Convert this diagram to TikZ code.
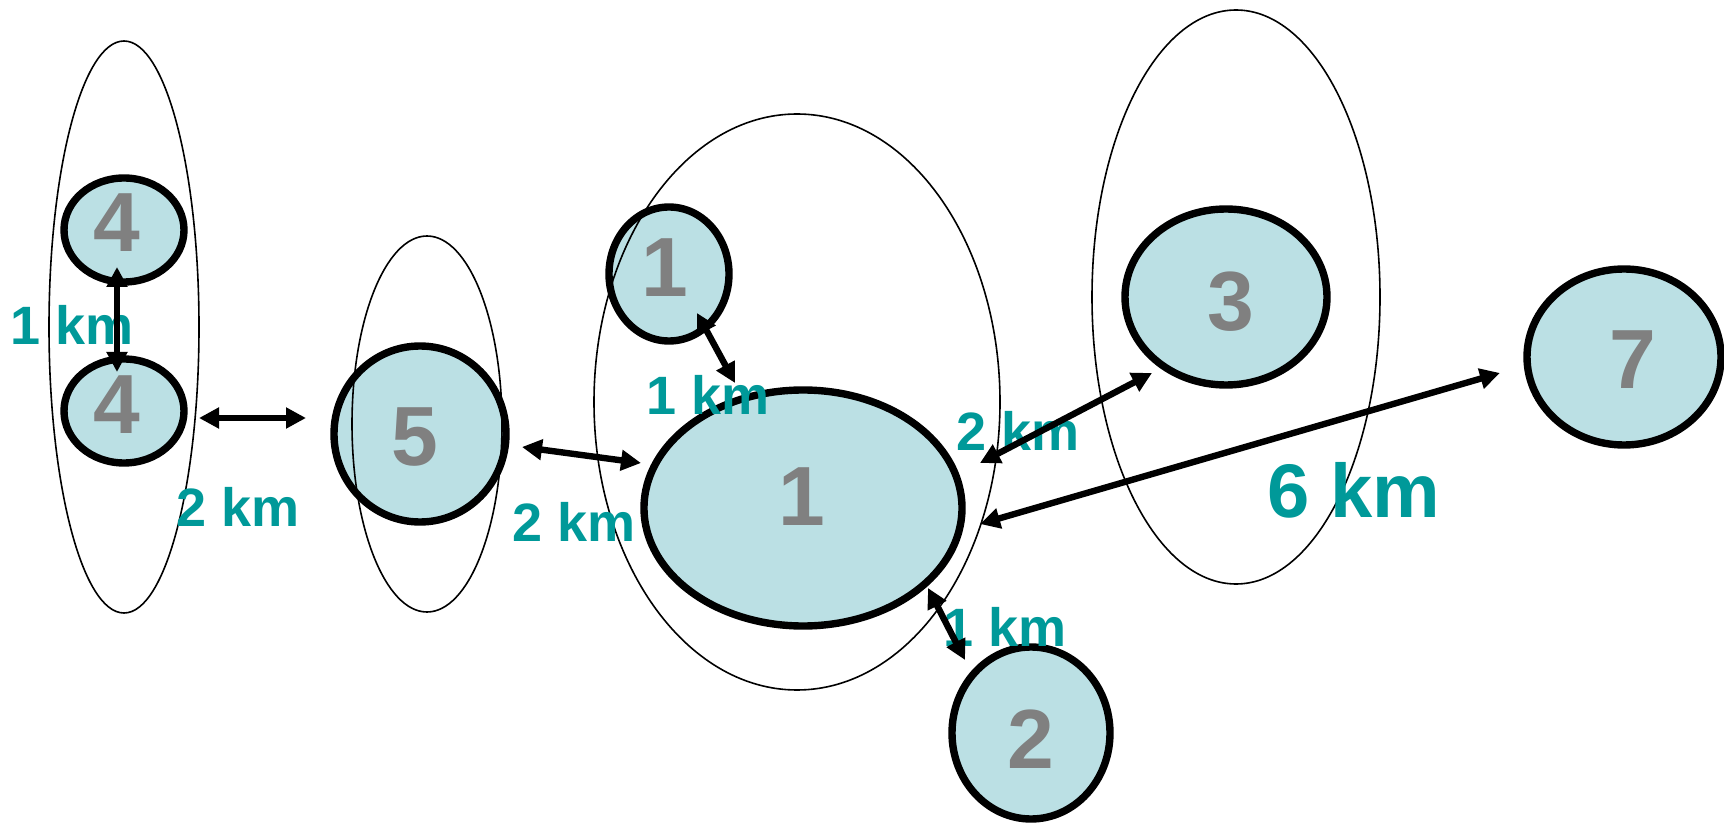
\documentclass[tikz,border=0pt]{standalone}
\usepackage{fontspec}
\setmainfont{Liberation Sans}
\usetikzlibrary{arrows.meta,shapes.geometric}
\definecolor{fillc}{RGB}{187,224,228}
\definecolor{numc}{RGB}{128,128,128}
\definecolor{labc}{RGB}{0,153,153}
\begin{document}
\begin{tikzpicture}[x=0.5pt,y=-0.5pt,
  grp/.style={draw, ellipse, line width=0.8pt, inner sep=0pt},
  site/.style={draw, ellipse, fill=fillc, line width=3.7pt, inner sep=0pt},
  num/.style={font=\bfseries\fontsize{42}{42}\selectfont, text=numc, inner sep=0pt},
  lab/.style={font=\bfseries\fontsize{27}{27}\selectfont, text=labc, inner sep=0pt},
  arr/.style={{Triangle[length=10pt,width=10pt]}-{Triangle[length=10pt,width=10pt]}, line width=3.2pt}]
\useasboundingbox (0,0) rectangle (1724,828);
% sites
\node[site, minimum width=60pt, minimum height=52pt] (fa) at (124,230) {};
\node[site, minimum width=60pt, minimum height=52pt] (fb) at (124,411) {};
\node[site, minimum width=86pt, minimum height=88pt] (f5) at (420,434) {};
\node[site, minimum width=60pt, minimum height=67pt] (s1) at (669,274) {};
\node[site, minimum width=159pt, minimum height=118pt] (b1) at (803,508) {};
\node[site, minimum width=101pt, minimum height=88pt] (f3) at (1226,297) {};
\node[site, minimum width=97pt, minimum height=88pt] (f7) at (1624,357) {};
\node[site, minimum width=79pt, minimum height=86pt] (f2) at (1031,733) {};
% groups
\node[grp, minimum width=75pt, minimum height=286pt] (g4) at (124,327) {};
\node[grp, minimum width=75pt, minimum height=188pt] (g5) at (427,424) {};
\node[grp, minimum width=203pt, minimum height=288pt] (g1) at (797,402) {};
\node[grp, minimum width=144pt, minimum height=287pt] (g3) at (1236,297) {};
% numbers
\node[num] (na) at (117,223) {4};
\node[num] (nb) at (117,405) {4};
\node[num] (n5) at (415,437) {5};
\node[num] (ns1) at (665,268) {1};
\node[num] (nb1) at (802,497) {1};
\node[num] (n3) at (1231,302) {3};
\node[num] (n7) at (1633,360) {7};
\node[num] (n2) at (1031,739) {2};
% labels
\node[lab] (l1) at (72,325) {1 km};
\node[lab] (l2) at (238,507) {2 km};
\node[lab] (l3) at (708,395) {1 km};
\node[lab] (l4) at (574,522) {2 km};
\node[lab] (l5) at (1018,431) {2 km};
\node[lab, font=\bfseries\fontsize{38}{38}\selectfont] (l6) at (1354,490) {6 km};
\node[lab] (l7) at (1005,627) {1 km};
% arrow ends
\coordinate (a1) at (117,267); \coordinate (a2) at (117,372);
\coordinate (h1) at (199,418); \coordinate (h2) at (306,418);
\coordinate (c1) at (522,447); \coordinate (c2) at (641,463);
\coordinate (d1) at (697,313); \coordinate (d2) at (735,383);
\coordinate (e1) at (980,463); \coordinate (e2) at (1152,373);
\coordinate (k1) at (980,524); \coordinate (k2) at (1500,373);
\coordinate (m1) at (928,588); \coordinate (m2) at (965,660);
\draw[arr] (a1) -- (a2);
\draw[arr] (h1) -- (h2);
\draw[arr] (c1) -- (c2);
\draw[arr] (d1) -- (d2);
\draw[arr] (e1) -- (e2);
\draw[arr] (k1) -- (k2);
\draw[arr] (m1) -- (m2);
\end{tikzpicture}
\end{document}
